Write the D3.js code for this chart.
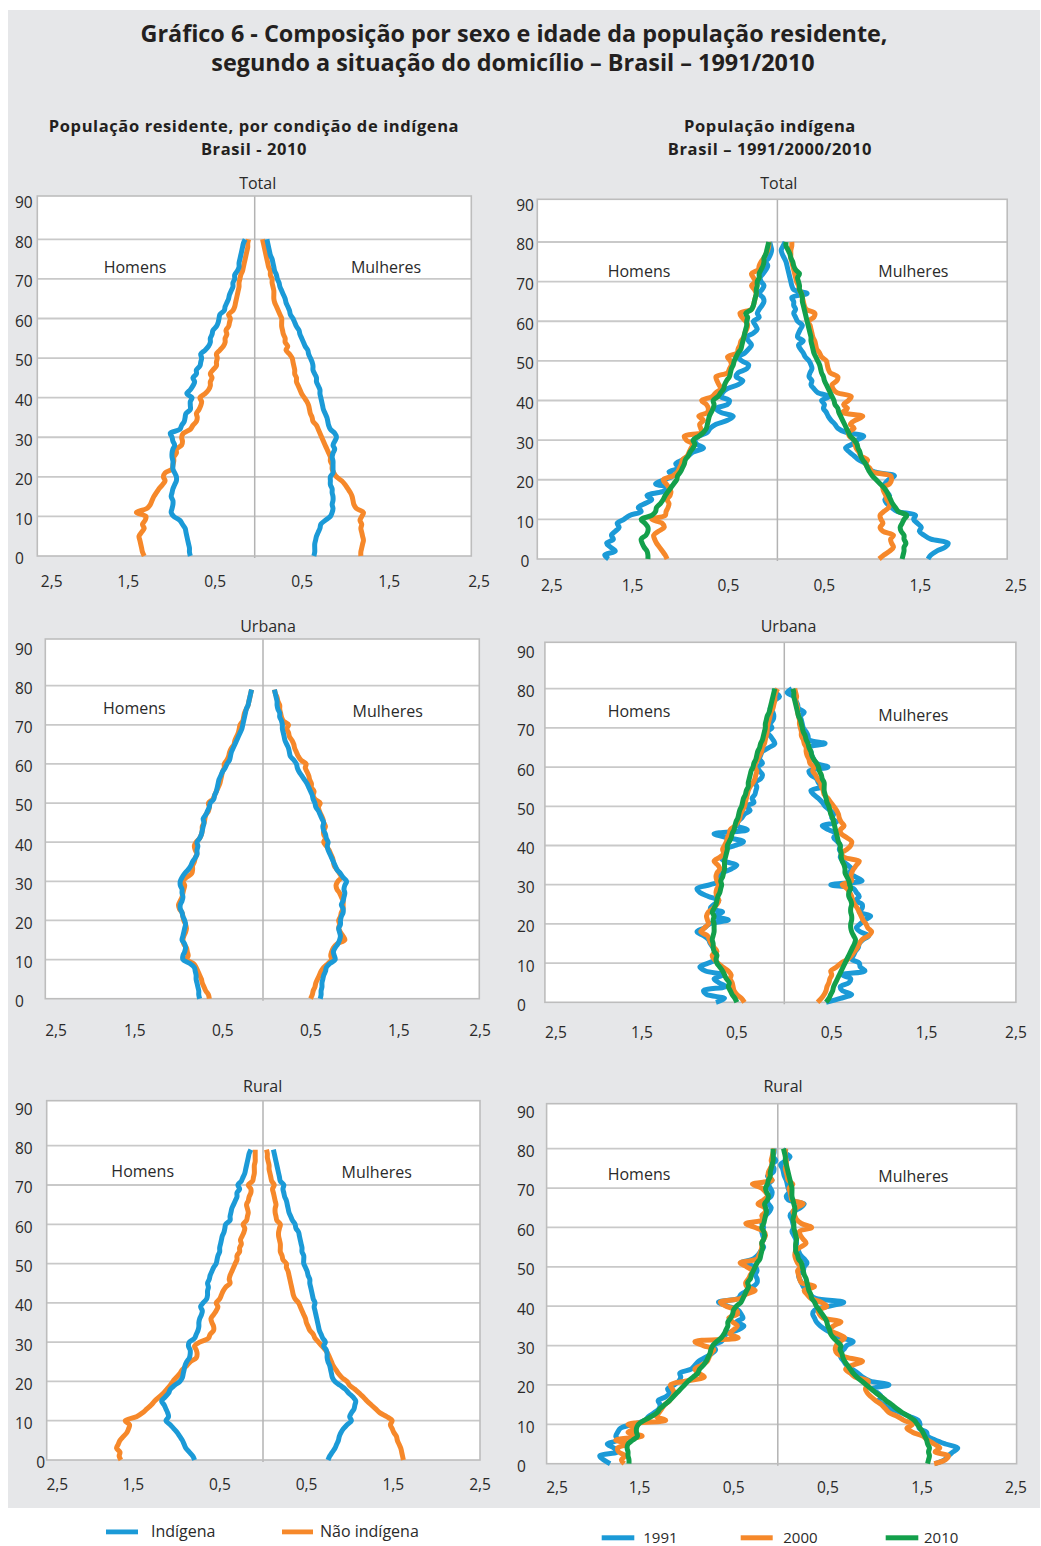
<!DOCTYPE html>
<html lang="pt-BR">
<head>
<meta charset="utf-8">
<title>Gráfico 6 - Composição por sexo e idade da população residente</title>
<script src="https://cdn.jsdelivr.net/npm/d3@7/dist/d3.min.js"></script>
<style>
  html, body { margin: 0; padding: 0; background: #ffffff; }
  svg text { font-family: "Open Sans", "Noto Sans", sans-serif; fill: #2a2a2a; }
</style>
</head>
<body>
<svg id="chart" width="1041" height="1546"></svg>
<script>
// ---------------------------------------------------------------------------
// Axis values
// ---------------------------------------------------------------------------
const xTickValues = [-2.5, -1.5, -0.5, 0.5, 1.5, 2.5];
const yTickValues = [0, 10, 20, 30, 40, 50, 60, 70, 80, 90];

// ---------------------------------------------------------------------------
// Left column: resident population by indigenous condition, Brasil 2010
// (percent, by single year of age starting at 0)
// ---------------------------------------------------------------------------
const totalIndigenaHomens = [
  0.74,0.75,0.75,0.76,0.77,0.78,0.79,0.80,0.83,0.86,
  0.93,0.96,0.95,0.94,0.94,0.96,0.95,0.94,0.92,0.90,
  0.90,0.92,0.94,0.94,0.94,0.95,0.95,0.94,0.92,0.94,
  0.95,0.97,0.86,0.84,0.81,0.80,0.79,0.74,0.74,0.74,
  0.72,0.78,0.74,0.71,0.69,0.71,0.67,0.67,0.63,0.62,
  0.61,0.62,0.57,0.53,0.51,0.51,0.49,0.48,0.44,0.42,
  0.41,0.40,0.35,0.34,0.32,0.30,0.29,0.27,0.25,0.25,
  0.23,0.23,0.20,0.18,0.18,0.17,0.16,0.15,0.14,0.13,0.11];
const totalNaoIndigenaHomens = [
  1.27,1.29,1.30,1.31,1.32,1.33,1.30,1.27,1.29,1.26,
  1.25,1.36,1.24,1.20,1.18,1.16,1.13,1.10,1.06,1.03,
  1.05,1.03,0.95,0.94,0.93,0.93,0.90,0.90,0.84,0.83,
  0.84,0.82,0.74,0.71,0.67,0.66,0.67,0.64,0.62,0.61,
  0.63,0.57,0.53,0.51,0.51,0.49,0.51,0.48,0.44,0.44,
  0.43,0.44,0.40,0.36,0.34,0.34,0.32,0.33,0.30,0.29,
  0.28,0.30,0.25,0.23,0.22,0.21,0.20,0.19,0.18,0.18,
  0.17,0.16,0.14,0.13,0.12,0.11,0.10,0.09,0.08,0.08,0.07];
const totalIndigenaMulheres = [
  0.68,0.69,0.69,0.69,0.70,0.71,0.73,0.75,0.76,0.81,
  0.87,0.89,0.90,0.89,0.90,0.90,0.89,0.89,0.87,0.87,
  0.87,0.90,0.90,0.90,0.90,0.89,0.90,0.92,0.90,0.92,
  0.94,0.92,0.87,0.85,0.84,0.83,0.81,0.79,0.78,0.77,
  0.76,0.75,0.75,0.73,0.71,0.71,0.69,0.67,0.67,0.66,
  0.64,0.62,0.61,0.58,0.56,0.54,0.52,0.51,0.48,0.46,
  0.44,0.41,0.40,0.38,0.36,0.35,0.33,0.31,0.29,0.28,
  0.26,0.25,0.23,0.22,0.21,0.20,0.18,0.17,0.16,0.15,0.14];
const totalNaoIndigenaMulheres = [
  1.22,1.22,1.23,1.24,1.25,1.24,1.23,1.22,1.23,1.21,
  1.23,1.25,1.17,1.14,1.13,1.12,1.10,1.07,1.04,1.00,
  0.94,0.91,0.89,0.89,0.87,0.87,0.85,0.83,0.81,0.79,
  0.77,0.75,0.73,0.71,0.67,0.66,0.64,0.63,0.62,0.60,
  0.57,0.54,0.52,0.50,0.48,0.48,0.46,0.46,0.45,0.44,
  0.43,0.40,0.36,0.38,0.35,0.35,0.33,0.32,0.31,0.31,
  0.31,0.29,0.27,0.25,0.23,0.22,0.22,0.22,0.21,0.20,
  0.20,0.18,0.18,0.16,0.15,0.14,0.13,0.12,0.11,0.10,0.09];

const urbanaIndigenaHomens = [
  0.72,0.73,0.73,0.74,0.75,0.76,0.76,0.77,0.78,0.83,
  0.91,0.91,0.89,0.88,0.89,0.92,0.91,0.90,0.89,0.88,
  0.89,0.91,0.92,0.94,0.94,0.92,0.91,0.92,0.92,0.94,
  0.94,0.92,0.89,0.85,0.82,0.80,0.77,0.75,0.75,0.74,
  0.75,0.72,0.70,0.69,0.68,0.67,0.68,0.65,0.63,0.61,
  0.60,0.56,0.55,0.53,0.52,0.51,0.50,0.48,0.46,0.43,
  0.41,0.38,0.37,0.36,0.34,0.32,0.30,0.28,0.26,0.24,
  0.23,0.22,0.21,0.20,0.19,0.17,0.16,0.15,0.14,0.13];
const urbanaNaoIndigenaHomens = [
  0.61,0.62,0.65,0.67,0.69,0.70,0.72,0.74,0.76,0.79,
  0.87,0.85,0.86,0.87,0.90,0.91,0.90,0.88,0.87,0.88,
  0.90,0.91,0.92,0.95,0.96,0.94,0.92,0.91,0.90,0.89,
  0.91,0.87,0.81,0.80,0.80,0.78,0.77,0.75,0.77,0.78,
  0.76,0.72,0.70,0.69,0.69,0.67,0.66,0.65,0.62,0.61,
  0.62,0.57,0.55,0.53,0.51,0.49,0.48,0.47,0.46,0.44,
  0.44,0.41,0.39,0.38,0.36,0.33,0.32,0.30,0.28,0.27,
  0.26,0.23,0.22,0.21,0.19,0.17,0.16,0.15,0.14,0.13];
const urbanaIndigenaMulheres = [
  0.65,0.66,0.66,0.67,0.67,0.68,0.69,0.71,0.72,0.76,
  0.82,0.81,0.80,0.82,0.85,0.87,0.88,0.87,0.86,0.88,
  0.88,0.89,0.91,0.91,0.89,0.91,0.92,0.93,0.92,0.93,
  0.95,0.91,0.88,0.84,0.82,0.80,0.78,0.76,0.74,0.73,
  0.74,0.72,0.71,0.69,0.68,0.69,0.67,0.65,0.63,0.60,
  0.59,0.57,0.56,0.54,0.52,0.50,0.47,0.44,0.41,0.39,
  0.38,0.35,0.31,0.30,0.29,0.27,0.25,0.24,0.23,0.22,
  0.22,0.21,0.19,0.19,0.17,0.16,0.16,0.15,0.14,0.13];
const urbanaNaoIndigenaMulheres = [
  0.54,0.56,0.57,0.59,0.60,0.62,0.64,0.66,0.69,0.74,
  0.78,0.77,0.78,0.80,0.84,0.93,0.91,0.88,0.86,0.87,
  0.86,0.88,0.89,0.91,0.91,0.91,0.89,0.87,0.84,0.83,
  0.85,0.89,0.87,0.84,0.81,0.80,0.79,0.77,0.75,0.72,
  0.69,0.71,0.69,0.69,0.71,0.69,0.68,0.66,0.64,0.63,
  0.65,0.59,0.57,0.58,0.55,0.55,0.53,0.52,0.50,0.48,
  0.49,0.43,0.40,0.38,0.36,0.35,0.33,0.30,0.29,0.27,
  0.29,0.23,0.21,0.20,0.19,0.19,0.17,0.16,0.14,0.13];

const ruralIndigenaHomens = [
  0.79,0.81,0.85,0.89,0.91,0.93,0.96,0.99,1.03,1.07,
  1.12,1.09,1.10,1.12,1.14,1.17,1.13,1.09,1.07,1.02,
  0.96,0.93,0.92,0.91,0.90,0.88,0.85,0.84,0.84,0.86,
  0.85,0.79,0.77,0.75,0.74,0.74,0.73,0.71,0.70,0.72,
  0.69,0.65,0.64,0.64,0.63,0.64,0.62,0.61,0.59,0.57,
  0.54,0.53,0.52,0.50,0.50,0.49,0.48,0.47,0.45,0.44,
  0.43,0.38,0.38,0.37,0.36,0.34,0.32,0.30,0.30,0.27,
  0.29,0.25,0.23,0.21,0.20,0.19,0.18,0.17,0.16,0.14];
const ruralNaoIndigenaHomens = [
  1.64,1.66,1.65,1.69,1.67,1.65,1.61,1.57,1.55,1.54,
  1.59,1.46,1.39,1.34,1.29,1.25,1.20,1.15,1.11,1.07,
  1.04,1.00,0.96,0.93,0.88,0.84,0.77,0.76,0.77,0.79,
  0.73,0.63,0.61,0.57,0.57,0.59,0.60,0.57,0.54,0.52,
  0.54,0.50,0.48,0.46,0.43,0.38,0.39,0.38,0.36,0.34,
  0.32,0.30,0.30,0.27,0.27,0.25,0.26,0.24,0.22,0.21,
  0.23,0.19,0.18,0.17,0.18,0.19,0.17,0.16,0.14,0.14,
  0.17,0.12,0.11,0.10,0.10,0.10,0.09,0.09,0.09,0.09];
const ruralIndigenaMulheres = [
  0.75,0.77,0.80,0.83,0.85,0.87,0.88,0.90,0.93,0.97,
  1.02,1.00,1.02,1.05,1.06,1.07,1.04,0.99,0.95,0.89,
  0.83,0.80,0.79,0.78,0.77,0.75,0.74,0.74,0.73,0.70,
  0.72,0.69,0.67,0.65,0.64,0.63,0.62,0.61,0.60,0.59,
  0.60,0.58,0.57,0.56,0.55,0.54,0.54,0.52,0.51,0.49,
  0.47,0.47,0.47,0.45,0.45,0.44,0.43,0.42,0.41,0.38,
  0.37,0.34,0.32,0.30,0.29,0.28,0.27,0.25,0.24,0.23,
  0.24,0.20,0.19,0.18,0.17,0.16,0.15,0.14,0.13,0.12];
const ruralNaoIndigenaMulheres = [
  1.62,1.61,1.60,1.59,1.57,1.55,1.54,1.51,1.49,1.47,
  1.49,1.43,1.35,1.30,1.25,1.20,1.16,1.11,1.06,1.00,
  0.97,0.91,0.87,0.84,0.81,0.79,0.77,0.75,0.72,0.68,
  0.64,0.60,0.58,0.54,0.52,0.50,0.49,0.47,0.45,0.43,
  0.41,0.37,0.35,0.34,0.33,0.32,0.31,0.30,0.29,0.27,
  0.27,0.23,0.22,0.20,0.20,0.20,0.19,0.18,0.18,0.19,
  0.20,0.16,0.15,0.14,0.14,0.15,0.14,0.13,0.12,0.11,
  0.13,0.10,0.09,0.08,0.07,0.07,0.06,0.05,0.05,0.04];

// ---------------------------------------------------------------------------
// Right column: indigenous population, Brasil 1991 / 2000 / 2010
// ---------------------------------------------------------------------------
const indTotal1991Homens = [
  1.76,1.80,1.69,1.74,1.78,1.71,1.73,1.69,1.65,1.67,
  1.60,1.54,1.42,1.45,1.38,1.31,1.36,1.20,1.13,1.27,
  1.18,1.09,1.13,1.02,1.06,0.99,0.93,0.88,0.77,0.84,
  0.86,0.82,0.73,0.70,0.64,0.52,0.46,0.59,0.64,0.52,
  0.50,0.59,0.57,0.52,0.41,0.36,0.43,0.41,0.32,0.30,
  0.37,0.41,0.34,0.30,0.27,0.30,0.32,0.25,0.21,0.23,
  0.25,0.19,0.21,0.19,0.16,0.14,0.15,0.19,0.16,0.14,
  0.17,0.18,0.15,0.12,0.10,0.12,0.09,0.07,0.06,0.07,0.08];
const indTotal2000Homens = [
  1.15,1.17,1.20,1.23,1.26,1.28,1.29,1.24,1.18,1.20,
  1.31,1.17,1.16,1.14,1.13,1.15,1.12,1.11,1.13,1.16,
  1.19,1.09,1.04,1.02,1.00,0.99,0.94,0.92,0.90,0.88,
  0.95,0.97,0.79,0.80,0.81,0.77,0.82,0.73,0.72,0.74,
  0.79,0.68,0.64,0.59,0.61,0.63,0.64,0.52,0.50,0.48,
  0.49,0.52,0.42,0.41,0.39,0.38,0.35,0.34,0.32,0.31,
  0.33,0.37,0.39,0.27,0.25,0.24,0.23,0.22,0.24,0.27,
  0.23,0.25,0.27,0.20,0.19,0.17,0.14,0.12,0.10,0.09,0.09];
const indTotal2010Homens = [
  1.35,1.35,1.36,1.39,1.41,1.42,1.37,1.35,1.35,1.38,
  1.42,1.31,1.27,1.26,1.22,1.19,1.17,1.14,1.11,1.08,
  1.05,1.04,1.01,0.99,0.97,0.96,0.93,0.91,0.88,0.86,
  0.88,0.82,0.77,0.74,0.73,0.72,0.71,0.69,0.67,0.66,
  0.67,0.62,0.59,0.56,0.55,0.53,0.50,0.49,0.48,0.46,
  0.45,0.43,0.41,0.38,0.37,0.36,0.35,0.34,0.33,0.32,
  0.32,0.31,0.33,0.27,0.25,0.24,0.23,0.22,0.22,0.21,
  0.21,0.19,0.19,0.17,0.15,0.14,0.14,0.12,0.11,0.10,0.09];
const indTotal1991Mulheres = [
  1.57,1.60,1.66,1.75,1.78,1.60,1.53,1.48,1.50,1.46,
  1.42,1.44,1.25,1.19,1.14,1.12,1.17,1.13,1.11,1.12,
  1.16,1.22,1.01,0.94,0.92,0.85,0.80,0.75,0.71,0.78,
  0.83,0.90,0.71,0.63,0.60,0.56,0.53,0.51,0.48,0.49,
  0.46,0.54,0.42,0.38,0.35,0.36,0.33,0.34,0.36,0.35,
  0.33,0.29,0.27,0.24,0.22,0.27,0.21,0.22,0.24,0.26,
  0.21,0.19,0.17,0.19,0.17,0.17,0.15,0.31,0.17,0.15,
  0.14,0.13,0.12,0.11,0.10,0.09,0.07,0.05,0.04,0.06,0.08];
const indTotal2000Mulheres = [
  1.06,1.11,1.17,1.21,1.19,1.18,1.21,1.10,1.07,1.10,
  1.08,1.07,1.11,1.16,1.17,1.14,1.13,1.11,1.10,1.17,
  1.19,1.18,0.99,0.96,0.92,0.94,0.87,0.85,0.82,0.81,
  0.80,0.75,0.74,0.80,0.76,0.81,0.89,0.68,0.73,0.69,
  0.74,0.77,0.62,0.58,0.57,0.62,0.63,0.55,0.53,0.52,
  0.51,0.46,0.44,0.41,0.40,0.39,0.37,0.36,0.35,0.34,
  0.32,0.38,0.39,0.30,0.28,0.27,0.26,0.25,0.23,0.22,
  0.20,0.19,0.18,0.17,0.16,0.15,0.14,0.14,0.14,0.15,0.15];
const indTotal2010Mulheres = [
  1.30,1.31,1.32,1.32,1.34,1.32,1.32,1.29,1.28,1.30,
  1.32,1.35,1.26,1.23,1.20,1.18,1.16,1.14,1.11,1.07,
  1.03,0.99,0.96,0.94,0.92,0.89,0.87,0.86,0.84,0.83,
  0.80,0.76,0.74,0.72,0.70,0.68,0.66,0.64,0.63,0.60,
  0.59,0.57,0.55,0.53,0.51,0.49,0.48,0.46,0.45,0.44,
  0.42,0.40,0.38,0.37,0.36,0.35,0.35,0.34,0.33,0.32,
  0.31,0.30,0.29,0.28,0.27,0.26,0.26,0.25,0.23,0.23,
  0.22,0.21,0.23,0.19,0.17,0.16,0.14,0.13,0.11,0.09,0.09];

const indUrbana1991Homens = [
  0.72,0.63,0.82,0.85,0.62,0.69,0.74,0.64,0.83,0.89,
  0.80,0.72,0.75,0.72,0.75,0.78,0.80,0.85,0.92,0.84,
  0.79,0.59,0.74,0.65,0.78,0.74,0.69,0.80,0.89,0.92,
  0.78,0.67,0.69,0.65,0.56,0.50,0.63,0.67,0.62,0.63,
  0.52,0.43,0.60,0.74,0.39,0.49,0.49,0.45,0.42,0.36,
  0.40,0.32,0.34,0.31,0.30,0.29,0.31,0.25,0.23,0.26,
  0.28,0.23,0.26,0.25,0.23,0.16,0.10,0.12,0.15,0.18,
  0.13,0.15,0.12,0.11,0.12,0.15,0.12,0.10,0.05,0.09,0.11];
const indUrbana2000Homens = [
  0.42,0.45,0.50,0.53,0.54,0.55,0.57,0.56,0.59,0.65,
  0.70,0.74,0.76,0.71,0.74,0.77,0.79,0.81,0.88,0.84,
  0.80,0.81,0.82,0.80,0.75,0.71,0.69,0.71,0.72,0.71,
  0.69,0.71,0.72,0.71,0.68,0.70,0.74,0.68,0.64,0.65,
  0.63,0.61,0.60,0.58,0.57,0.52,0.49,0.47,0.46,0.44,
  0.42,0.41,0.40,0.39,0.38,0.36,0.33,0.31,0.30,0.29,
  0.31,0.30,0.28,0.26,0.24,0.23,0.21,0.20,0.19,0.18,
  0.18,0.17,0.16,0.15,0.14,0.12,0.11,0.10,0.10,0.09,0.07];
const indUrbana2010Homens = [
  0.50,0.52,0.55,0.57,0.59,0.58,0.61,0.63,0.65,0.68,
  0.71,0.72,0.71,0.74,0.75,0.75,0.76,0.75,0.74,0.74,
  0.74,0.75,0.74,0.76,0.74,0.72,0.71,0.70,0.68,0.67,
  0.66,0.67,0.65,0.64,0.63,0.63,0.63,0.62,0.61,0.60,
  0.60,0.58,0.56,0.55,0.53,0.52,0.51,0.49,0.48,0.47,
  0.45,0.44,0.43,0.41,0.40,0.38,0.38,0.37,0.36,0.35,
  0.33,0.32,0.30,0.29,0.28,0.26,0.25,0.23,0.22,0.21,
  0.20,0.20,0.19,0.18,0.16,0.15,0.14,0.13,0.12,0.11,0.10];
const indUrbana1991Mulheres = [
  0.44,0.59,0.71,0.61,0.59,0.68,0.70,0.61,0.85,0.80,
  0.79,0.71,0.73,0.75,0.78,0.79,0.83,0.89,0.80,0.76,
  0.80,0.85,0.91,0.79,0.82,0.82,0.75,0.79,0.76,0.73,
  0.49,0.82,0.75,0.68,0.71,0.67,0.62,0.59,0.60,0.58,
  0.59,0.56,0.52,0.55,0.47,0.40,0.55,0.50,0.52,0.48,
  0.43,0.40,0.36,0.31,0.28,0.39,0.36,0.34,0.28,0.26,
  0.46,0.34,0.31,0.29,0.28,0.25,0.43,0.26,0.25,0.23,
  0.20,0.19,0.18,0.17,0.21,0.15,0.14,0.12,0.10,0.03,0.08];
const indUrbana2000Mulheres = [
  0.35,0.39,0.42,0.44,0.45,0.47,0.48,0.50,0.49,0.55,
  0.60,0.67,0.71,0.74,0.77,0.79,0.82,0.89,0.92,0.88,
  0.86,0.83,0.81,0.79,0.77,0.74,0.72,0.71,0.69,0.66,
  0.61,0.71,0.70,0.71,0.73,0.76,0.79,0.63,0.60,0.66,
  0.70,0.71,0.66,0.60,0.59,0.63,0.60,0.58,0.57,0.55,
  0.52,0.49,0.46,0.42,0.41,0.39,0.38,0.35,0.33,0.30,
  0.31,0.27,0.26,0.24,0.23,0.23,0.21,0.20,0.18,0.18,
  0.17,0.16,0.16,0.15,0.14,0.14,0.13,0.12,0.13,0.12,0.11];
const indUrbana2010Mulheres = [
  0.44,0.47,0.49,0.51,0.52,0.54,0.56,0.58,0.60,0.62,
  0.64,0.66,0.68,0.70,0.72,0.74,0.75,0.73,0.71,0.70,
  0.70,0.71,0.71,0.70,0.70,0.71,0.70,0.68,0.68,0.70,
  0.69,0.68,0.66,0.64,0.64,0.63,0.61,0.60,0.60,0.59,
  0.59,0.57,0.56,0.55,0.54,0.53,0.52,0.51,0.49,0.48,
  0.47,0.45,0.44,0.43,0.42,0.42,0.42,0.40,0.39,0.37,
  0.36,0.34,0.31,0.29,0.28,0.26,0.25,0.23,0.22,0.20,
  0.19,0.18,0.17,0.15,0.14,0.13,0.12,0.11,0.10,0.10,0.09];

const indRural1991Homens = [
  1.78,1.85,1.89,1.70,1.74,1.81,1.70,1.72,1.70,1.67,
  1.54,1.41,1.37,1.31,1.26,1.25,1.27,1.19,1.15,1.17,
  1.10,1.05,1.03,1.04,0.92,0.88,0.84,0.77,0.70,0.66,
  0.69,0.60,0.57,0.55,0.42,0.36,0.44,0.37,0.39,0.42,
  0.53,0.63,0.42,0.39,0.32,0.26,0.22,0.22,0.24,0.22,
  0.24,0.39,0.26,0.21,0.18,0.15,0.17,0.15,0.16,0.17,
  0.15,0.17,0.16,0.13,0.09,0.07,0.10,0.11,0.07,0.06,
  0.08,0.10,0.06,0.11,0.05,0.04,0.06,0.02,0.05,0.04,0.04];
const indRural2000Homens = [
  1.63,1.66,1.62,1.69,1.70,1.59,1.72,1.44,1.59,1.51,
  1.59,1.19,1.29,1.26,1.23,1.20,1.15,1.12,1.10,1.12,
  1.14,0.97,0.78,0.84,0.88,0.81,0.75,0.73,0.71,0.68,
  0.79,0.88,0.42,0.51,0.47,0.43,0.48,0.52,0.43,0.44,
  0.55,0.61,0.39,0.34,0.24,0.33,0.34,0.31,0.29,0.27,
  0.33,0.40,0.22,0.20,0.18,0.17,0.17,0.15,0.13,0.15,
  0.24,0.34,0.15,0.17,0.13,0.14,0.21,0.15,0.11,0.13,
  0.17,0.27,0.06,0.10,0.10,0.08,0.06,0.07,0.06,0.05,0.04];
const indRural2010Homens = [
  1.58,1.58,1.59,1.59,1.60,1.59,1.54,1.49,1.50,1.50,
  1.48,1.42,1.34,1.28,1.25,1.20,1.15,1.11,1.07,1.03,
  0.99,0.95,0.90,0.85,0.83,0.79,0.76,0.74,0.72,0.71,
  0.69,0.65,0.60,0.57,0.55,0.53,0.53,0.50,0.48,0.47,
  0.44,0.39,0.37,0.35,0.33,0.31,0.32,0.29,0.28,0.26,
  0.24,0.22,0.19,0.18,0.17,0.16,0.17,0.15,0.14,0.15,
  0.17,0.15,0.14,0.13,0.12,0.13,0.14,0.11,0.10,0.12,
  0.13,0.11,0.10,0.08,0.08,0.07,0.06,0.05,0.05,0.05,0.05];
const indRural1991Mulheres = [
  1.67,1.77,1.81,1.86,1.91,1.78,1.67,1.59,1.58,1.50,
  1.51,1.49,1.40,1.30,1.19,1.12,1.07,1.10,1.06,1.00,
  1.18,0.98,0.90,0.85,0.79,0.73,0.70,0.67,0.66,0.70,
  0.73,0.80,0.67,0.59,0.51,0.45,0.41,0.39,0.37,0.39,
  0.55,0.70,0.40,0.34,0.31,0.27,0.25,0.23,0.22,0.27,
  0.28,0.31,0.28,0.24,0.22,0.19,0.20,0.19,0.17,0.15,
  0.17,0.16,0.15,0.13,0.16,0.24,0.28,0.11,0.09,0.12,
  0.11,0.10,0.09,0.07,0.06,0.05,0.03,0.09,0.13,0.08,0.09];
const indRural2000Mulheres = [
  1.66,1.78,1.81,1.67,1.72,1.66,1.59,1.54,1.43,1.37,
  1.43,1.34,1.27,1.18,1.14,1.10,1.04,0.99,0.95,0.93,
  0.95,0.96,0.82,0.77,0.72,0.79,0.90,0.73,0.63,0.61,
  0.62,0.66,0.71,0.63,0.55,0.59,0.67,0.48,0.44,0.43,
  0.52,0.46,0.35,0.31,0.28,0.39,0.25,0.23,0.22,0.21,
  0.24,0.21,0.19,0.18,0.19,0.24,0.30,0.27,0.24,0.23,
  0.36,0.25,0.20,0.18,0.16,0.20,0.27,0.15,0.14,0.13,
  0.12,0.16,0.11,0.10,0.09,0.08,0.09,0.09,0.08,0.08,0.08];
const indRural2010Mulheres = [
  1.59,1.60,1.61,1.60,1.61,1.59,1.58,1.56,1.54,1.51,
  1.48,1.45,1.39,1.32,1.26,1.21,1.15,1.10,1.04,0.99,
  0.94,0.89,0.84,0.80,0.77,0.74,0.71,0.69,0.68,0.66,
  0.67,0.63,0.59,0.56,0.55,0.53,0.52,0.50,0.47,0.44,
  0.41,0.39,0.36,0.35,0.33,0.32,0.31,0.30,0.28,0.27,
  0.26,0.25,0.22,0.21,0.19,0.19,0.19,0.20,0.19,0.18,
  0.17,0.17,0.16,0.17,0.18,0.18,0.17,0.16,0.15,0.15,
  0.15,0.14,0.13,0.12,0.11,0.10,0.09,0.08,0.08,0.07,0.06];

// ---------------------------------------------------------------------------
// Styling
// ---------------------------------------------------------------------------
const COLORS = { blue: "#1b9ad7", orange: "#f6882a", green: "#13a04b" };
const GRID = "#c9c9c9", FRAME = "#bdbdbd", AXIS0 = "#b3b3b3";

// Panel layout (box = [left, top, right, bottom] of the white plot area;
// c = x position of value 0, k = pixels per percentage point; y80 = y of age 80)
const panels = [
  { title: "Total", titleX: 257.7, titleY: 189, box: [37.3, 196, 471.3, 556], c: 254.7, k: 87, y80: 239.3,
    homens: [135, 273.3], mulheres: [386, 273.3], tickBase: 586.7, tickDx: 4, endL: 51.7, endR: 479,
    yLab: { x: 15, anchor: "start" },
    series: [
      { h: totalNaoIndigenaHomens, m: totalNaoIndigenaMulheres, color: COLORS.orange },
      { h: totalIndigenaHomens, m: totalIndigenaMulheres, color: COLORS.blue } ] },
  { title: "Urbana", titleX: 268, titleY: 631.7, box: [45.3, 639, 479.3, 998.7], c: 263, k: 88, y80: 685.7,
    homens: [134.3, 714], mulheres: [387.7, 717.3], tickBase: 1035.7, tickDx: 3.8, endL: 56, endR: 480,
    yLab: { x: 15, anchor: "start" },
    series: [
      { h: urbanaNaoIndigenaHomens, m: urbanaNaoIndigenaMulheres, color: COLORS.orange },
      { h: urbanaIndigenaHomens, m: urbanaIndigenaMulheres, color: COLORS.blue } ] },
  { title: "Rural", titleX: 262.7, titleY: 1091.7, box: [46.7, 1100.7, 480, 1460], c: 263, k: 86.67, y80: 1145.7,
    homens: [142.7, 1176.7], mulheres: [376.7, 1178.3], tickBase: 1490, tickDx: 0.3, endL: 57.3, endR: 480,
    yLab: { x: 15, anchor: "start", zeroX: 45, zeroAnchor: "end" },
    series: [
      { h: ruralNaoIndigenaHomens, m: ruralNaoIndigenaMulheres, color: COLORS.orange },
      { h: ruralIndigenaHomens, m: ruralIndigenaMulheres, color: COLORS.blue } ] },
  { title: "Total", titleX: 778.8, titleY: 189.3, box: [537.3, 199.3, 1007.2, 559], c: 777.4, k: 95.93, y80: 242,
    homens: [639, 276.7], mulheres: [913.4, 276.7], tickBase: 590.7, tickDx: -1, endL: 551.8, endR: 1015.9,
    yLab: { x: 525, anchor: "middle" },
    series: [
      { h: indTotal1991Homens, m: indTotal1991Mulheres, color: COLORS.blue },
      { h: indTotal2000Homens, m: indTotal2000Mulheres, color: COLORS.orange },
      { h: indTotal2010Homens, m: indTotal2010Mulheres, color: COLORS.green } ] },
  { title: "Urbana", titleX: 788.5, titleY: 631.7, box: [544.9, 642.3, 1015.9, 1002.3], c: 784.3, k: 94.89, y80: 688.7,
    homens: [639, 716.7], mulheres: [913.4, 720.7], tickBase: 1038.3, tickDx: 0, endL: 555.9, endR: 1015.9,
    yLab: { x: 517, anchor: "start" },
    series: [
      { h: indUrbana1991Homens, m: indUrbana1991Mulheres, color: COLORS.blue },
      { h: indUrbana2000Homens, m: indUrbana2000Mulheres, color: COLORS.orange },
      { h: indUrbana2010Homens, m: indUrbana2010Mulheres, color: COLORS.green } ] },
  { title: "Rural", titleX: 783, titleY: 1091.7, box: [546.6, 1103.7, 1016.6, 1463.7], c: 777.8, k: 94.2, y80: 1148.7,
    homens: [639, 1180], mulheres: [913.4, 1181.7], tickBase: 1492.7, tickDx: 3, endL: 557, endR: 1015.9,
    yLab: { x: 517, anchor: "start" },
    series: [
      { h: indRural1991Homens, m: indRural1991Mulheres, color: COLORS.blue },
      { h: indRural2000Homens, m: indRural2000Mulheres, color: COLORS.orange },
      { h: indRural2010Homens, m: indRural2010Mulheres, color: COLORS.green } ] }
];

const fmt = v => String(Math.abs(v)).replace(".", ",");

// ---------------------------------------------------------------------------
// Drawing
// ---------------------------------------------------------------------------
const svg = d3.select("#chart");
svg.append("rect").attr("width", 1041).attr("height", 1546).attr("fill", "#ffffff");
svg.append("rect").attr("x", 8).attr("y", 10).attr("width", 1032).attr("height", 1498).attr("fill", "#e6e7e9");

// Main title
const mainTitle = svg.append("text").attr("text-anchor", "middle")
  .style("font-weight", 700).style("font-size", "23.4px").style("fill", "#231f20");
mainTitle.append("tspan").attr("x", 514).attr("y", 41.5)
  .text("Gráfico 6 - Composição por sexo e idade da população residente,");
mainTitle.append("tspan").attr("x", 513).attr("y", 70.5)
  .text("segundo a situação do domicílio – Brasil – 1991/2010");

// Column subtitles (two separate lines each)
const subtitles = [
  { x: 254, lines: ["População residente, por condição de indígena", "Brasil - 2010"] },
  { x: 770, lines: ["População indígena", "Brasil – 1991/2000/2010"] }
];
subtitles.forEach(s => {
  s.lines.forEach((line, i) => {
    svg.append("text").attr("x", s.x).attr("y", 132.3 + i * 22.8)
      .attr("text-anchor", "middle")
      .style("font-weight", 700).style("font-size", "16.5px").style("letter-spacing", "0.6px")
      .style("fill", "#231f20")
      .text(line);
  });
});

panels.forEach(p => {
  const [x0, y0, x1, y1] = p.box;
  const x = d3.scaleLinear().domain([-2.5, 2.5]).range([p.c - 2.5 * p.k, p.c + 2.5 * p.k]);
  const y = d3.scaleLinear().domain([0, 80]).range([y1, p.y80]);
  const g = svg.append("g");

  g.append("rect").attr("x", x0).attr("y", y0).attr("width", x1 - x0).attr("height", y1 - y0)
    .attr("fill", "#ffffff");

  g.selectAll("line.grid").data(d3.range(10, 81, 10)).join("line")
    .attr("class", "grid")
    .attr("x1", x0).attr("x2", x1).attr("y1", d => y(d)).attr("y2", d => y(d))
    .attr("stroke", GRID).attr("stroke-width", 1.8);

  g.append("line").attr("x1", x(0)).attr("x2", x(0)).attr("y1", y0).attr("y2", y1 + 2)
    .attr("stroke", AXIS0).attr("stroke-width", 1.5);

  g.append("rect").attr("x", x0).attr("y", y0).attr("width", x1 - x0).attr("height", y1 - y0)
    .attr("fill", "none").attr("stroke", FRAME).attr("stroke-width", 1.6);

  // age axis labels
  g.selectAll("text.ytick").data(yTickValues).join("text")
    .attr("class", "ytick")
    .attr("x", d => (d === 0 && p.yLab.zeroX) ? p.yLab.zeroX : p.yLab.x)
    .attr("text-anchor", d => (d === 0 && p.yLab.zeroAnchor) ? p.yLab.zeroAnchor : p.yLab.anchor)
    .attr("y", d => y(d) + 8.4)
    .style("font-size", "15.5px")
    .text(d => d);

  // percentage axis labels
  g.selectAll("text.xtick").data(xTickValues).join("text")
    .attr("class", "xtick")
    .attr("x", d => d === -2.5 ? p.endL : d === 2.5 ? p.endR : x(d) + p.tickDx)
    .attr("y", p.tickBase)
    .attr("text-anchor", "middle")
    .style("font-size", "15.5px")
    .text(fmt);

  // population lines: men on the left, women on the right
  const lineH = d3.line().x(v => x(-v)).y((v, i) => y(i)).curve(d3.curveCatmullRom.alpha(0.5));
  const lineM = d3.line().x(v => x(v)).y((v, i) => y(i)).curve(d3.curveCatmullRom.alpha(0.5));
  p.series.forEach(s => {
    [lineH(s.h), lineM(s.m)].forEach(d => {
      g.append("path").attr("d", d).attr("fill", "none")
        .attr("stroke", s.color).attr("stroke-width", 5)
        .attr("stroke-linejoin", "round").attr("stroke-linecap", "butt");
    });
  });

  g.append("text").attr("x", p.titleX).attr("y", p.titleY).attr("text-anchor", "middle")
    .style("font-size", "16px").text(p.title);
  g.append("text").attr("x", p.homens[0]).attr("y", p.homens[1]).attr("text-anchor", "middle")
    .style("font-size", "16px").text("Homens");
  g.append("text").attr("x", p.mulheres[0]).attr("y", p.mulheres[1]).attr("text-anchor", "middle")
    .style("font-size", "16px").text("Mulheres");
});

// Legends
const legendLeft = [
  { label: "Indígena", color: COLORS.blue, sx: 106, sw: 32, tx: 151 },
  { label: "Não indígena", color: COLORS.orange, sx: 282, sw: 31, tx: 320 }
];
legendLeft.forEach(l => {
  svg.append("rect").attr("x", l.sx).attr("y", 1529.5).attr("width", l.sw).attr("height", 4.8).attr("fill", l.color);
  svg.append("text").attr("x", l.tx).attr("y", 1537.3).style("font-size", "16px").text(l.label);
});
const legendRight = [
  { label: "1991", color: COLORS.blue, sx: 601.7, sw: 32.6, tx: 643.3 },
  { label: "2000", color: COLORS.orange, sx: 740.7, sw: 32, tx: 783.3 },
  { label: "2010", color: COLORS.green, sx: 885.7, sw: 32.6, tx: 924 }
];
legendRight.forEach(l => {
  svg.append("rect").attr("x", l.sx).attr("y", 1535.3).attr("width", l.sw).attr("height", 5).attr("fill", l.color);
  svg.append("text").attr("x", l.tx).attr("y", 1543.4).style("font-size", "15px").text(l.label);
});
</script>
</body>
</html>
